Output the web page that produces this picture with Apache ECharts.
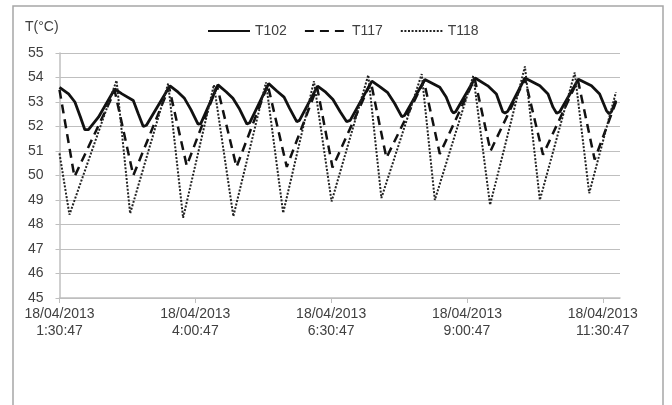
<!DOCTYPE html>
<html>
<head>
<meta charset="utf-8">
<script src="https://cdn.jsdelivr.net/npm/echarts@6/dist/echarts.min.js"></script>
<style>
  html, body { margin: 0; padding: 0; background: #fff; }
  #chartDiv { width: 672px; height: 405px; }
</style>
</head>
<body>
<div id="chartDiv"></div>
<script>
// minutes after 18/04/2013 1:30:47
var t102Time = [0, 10, 17, 23, 28, 32, 43, 61, 69, 81.5, 87, 92.5, 96,
  122, 131, 138, 145, 153, 156, 175, 184, 191.5, 199, 207, 210,
  231, 240, 248, 254, 262, 265, 285, 294, 302, 310, 317, 321,
  345, 354, 362.5, 370, 378, 381, 403.5, 420, 427, 433, 435, 437.5,
  459, 473, 482.5, 489.5, 492, 495, 514, 530.5, 539.5, 545, 549, 552.5,
  573, 587.5, 596.5, 604, 607, 609.5, 614.5];
var t102Values = [53.6, 53.33, 53.0, 52.4, 51.87, 51.87, 52.38, 53.53, 53.33, 53.06, 52.52, 52.0, 52.05,
  53.66, 53.4, 53.15, 52.7, 52.1, 52.12, 53.7, 53.42, 53.15, 52.7, 52.1, 52.15,
  53.75, 53.45, 53.2, 52.75, 52.2, 52.25, 53.65, 53.4, 53.1, 52.6, 52.2, 52.25,
  53.85, 53.62, 53.38, 52.95, 52.4, 52.45, 53.92, 53.6, 53.2, 52.65, 52.55, 52.6,
  53.98, 53.66, 53.33, 52.6, 52.55, 52.62, 53.98, 53.66, 53.33, 52.79, 52.54, 52.6,
  53.93, 53.66, 53.33, 52.65, 52.52, 52.6, 53.06];

var t117Time = [0, 16.5, 61, 81.5, 121, 140.5, 174, 195.5, 230, 251, 284.5, 301.5,
  344, 361, 402.5, 420, 458.5, 476, 514, 534, 572.5, 591, 614.5];
var t117Values = [53.5, 49.95, 53.45, 50.0, 53.6, 50.4, 53.65, 50.35, 53.7, 50.35, 53.6, 50.33,
  53.8, 50.72, 53.85, 50.88, 53.95, 51.0, 53.95, 50.85, 53.9, 50.65, 53.0];

var t118Time = [0, 11, 63, 78, 120, 136.5, 170.5, 192, 228, 247, 281, 300.5,
  341, 355.5, 400, 414.5, 457, 475.5, 514, 530.5, 569, 585, 614.5];
var t118Values = [50.9, 48.4, 53.88, 48.45, 53.75, 48.27, 53.7, 48.33, 53.8, 48.47, 53.85, 48.94,
  54.1, 49.08, 54.14, 49.0, 54.07, 48.8, 54.45, 49.0, 54.2, 49.28, 53.4];

var tickValues = [0, 150, 300, 450, 600];
var tickLabels = ['18/04/2013\n1:30:47', '18/04/2013\n4:00:47', '18/04/2013\n6:30:47',
  '18/04/2013\n9:00:47', '18/04/2013\n11:30:47'];

function pairs(xs, ys) {
  var out = [];
  for (var i = 0; i < xs.length; i++) out.push([xs[i], ys[i]]);
  return out;
}

var textColor = '#404040';
var gridColor = '#bfbfbf';
var font = 'Liberation Sans';

var chart = echarts.init(document.getElementById('chartDiv'));
var option = {
  backgroundColor: '#fff',
  animation: false,
  textStyle: { fontFamily: font },
  graphic: [
    {
      type: 'rect',
      shape: { x: 13, y: 6, width: 650, height: 420 },
      style: { fill: 'none', stroke: '#a6a6a6', lineWidth: 1.5 }
    },
    {
      type: 'text',
      left: 25, top: 20,
      style: { text: 'T(°C)', font: '14px "Liberation Sans"', fill: textColor }
    }
  ],
  legend: {
    left: 202, top: 19,
    itemWidth: 42, itemHeight: 14, itemGap: 17,
    itemStyle: { opacity: 0 },
    textStyle: { fontSize: 14, color: textColor, fontFamily: font },
    data: ['T102', 'T117', 'T118']
  },
  grid: { left: 59.5, right: 52, top: 53, bottom: 107 },
  xAxis: {
    type: 'value',
    min: 0, max: 619,
    axisLine: { show: true, lineStyle: { color: gridColor, width: 1.5 } },
    axisTick: { show: true, length: 5, customValues: tickValues, lineStyle: { color: gridColor } },
    splitLine: { show: false },
    axisLabel: {
      customValues: tickValues,
      fontSize: 14, color: textColor, lineHeight: 17, margin: 8,
      formatter: function (v) { return tickLabels[tickValues.indexOf(v)]; }
    }
  },
  yAxis: {
    type: 'value',
    min: 45, max: 55, interval: 1,
    axisLine: { show: true, lineStyle: { color: gridColor, width: 1.5 } },
    axisTick: { show: true, length: 4, lineStyle: { color: gridColor } },
    splitLine: { show: true, lineStyle: { color: gridColor, width: 1.2 } },
    axisLabel: { fontSize: 14, color: textColor, margin: 16 }
  },
  series: [
    {
      name: 'T102', type: 'line', symbol: 'none',
      lineStyle: { color: '#111', width: 2.8, type: 'solid' },
      itemStyle: { color: '#111' },
      data: pairs(t102Time, t102Values)
    },
    {
      name: 'T117', type: 'line', symbol: 'none',
      lineStyle: { color: '#111', width: 2.5, type: [9, 6] },
      itemStyle: { color: '#111' },
      data: pairs(t117Time, t117Values)
    },
    {
      name: 'T118', type: 'line', symbol: 'none',
      lineStyle: { color: '#222', width: 2, type: [2, 1.6] },
      itemStyle: { color: '#222' },
      data: pairs(t118Time, t118Values)
    }
  ]
};
chart.setOption(option);
</script>
</body>
</html>
